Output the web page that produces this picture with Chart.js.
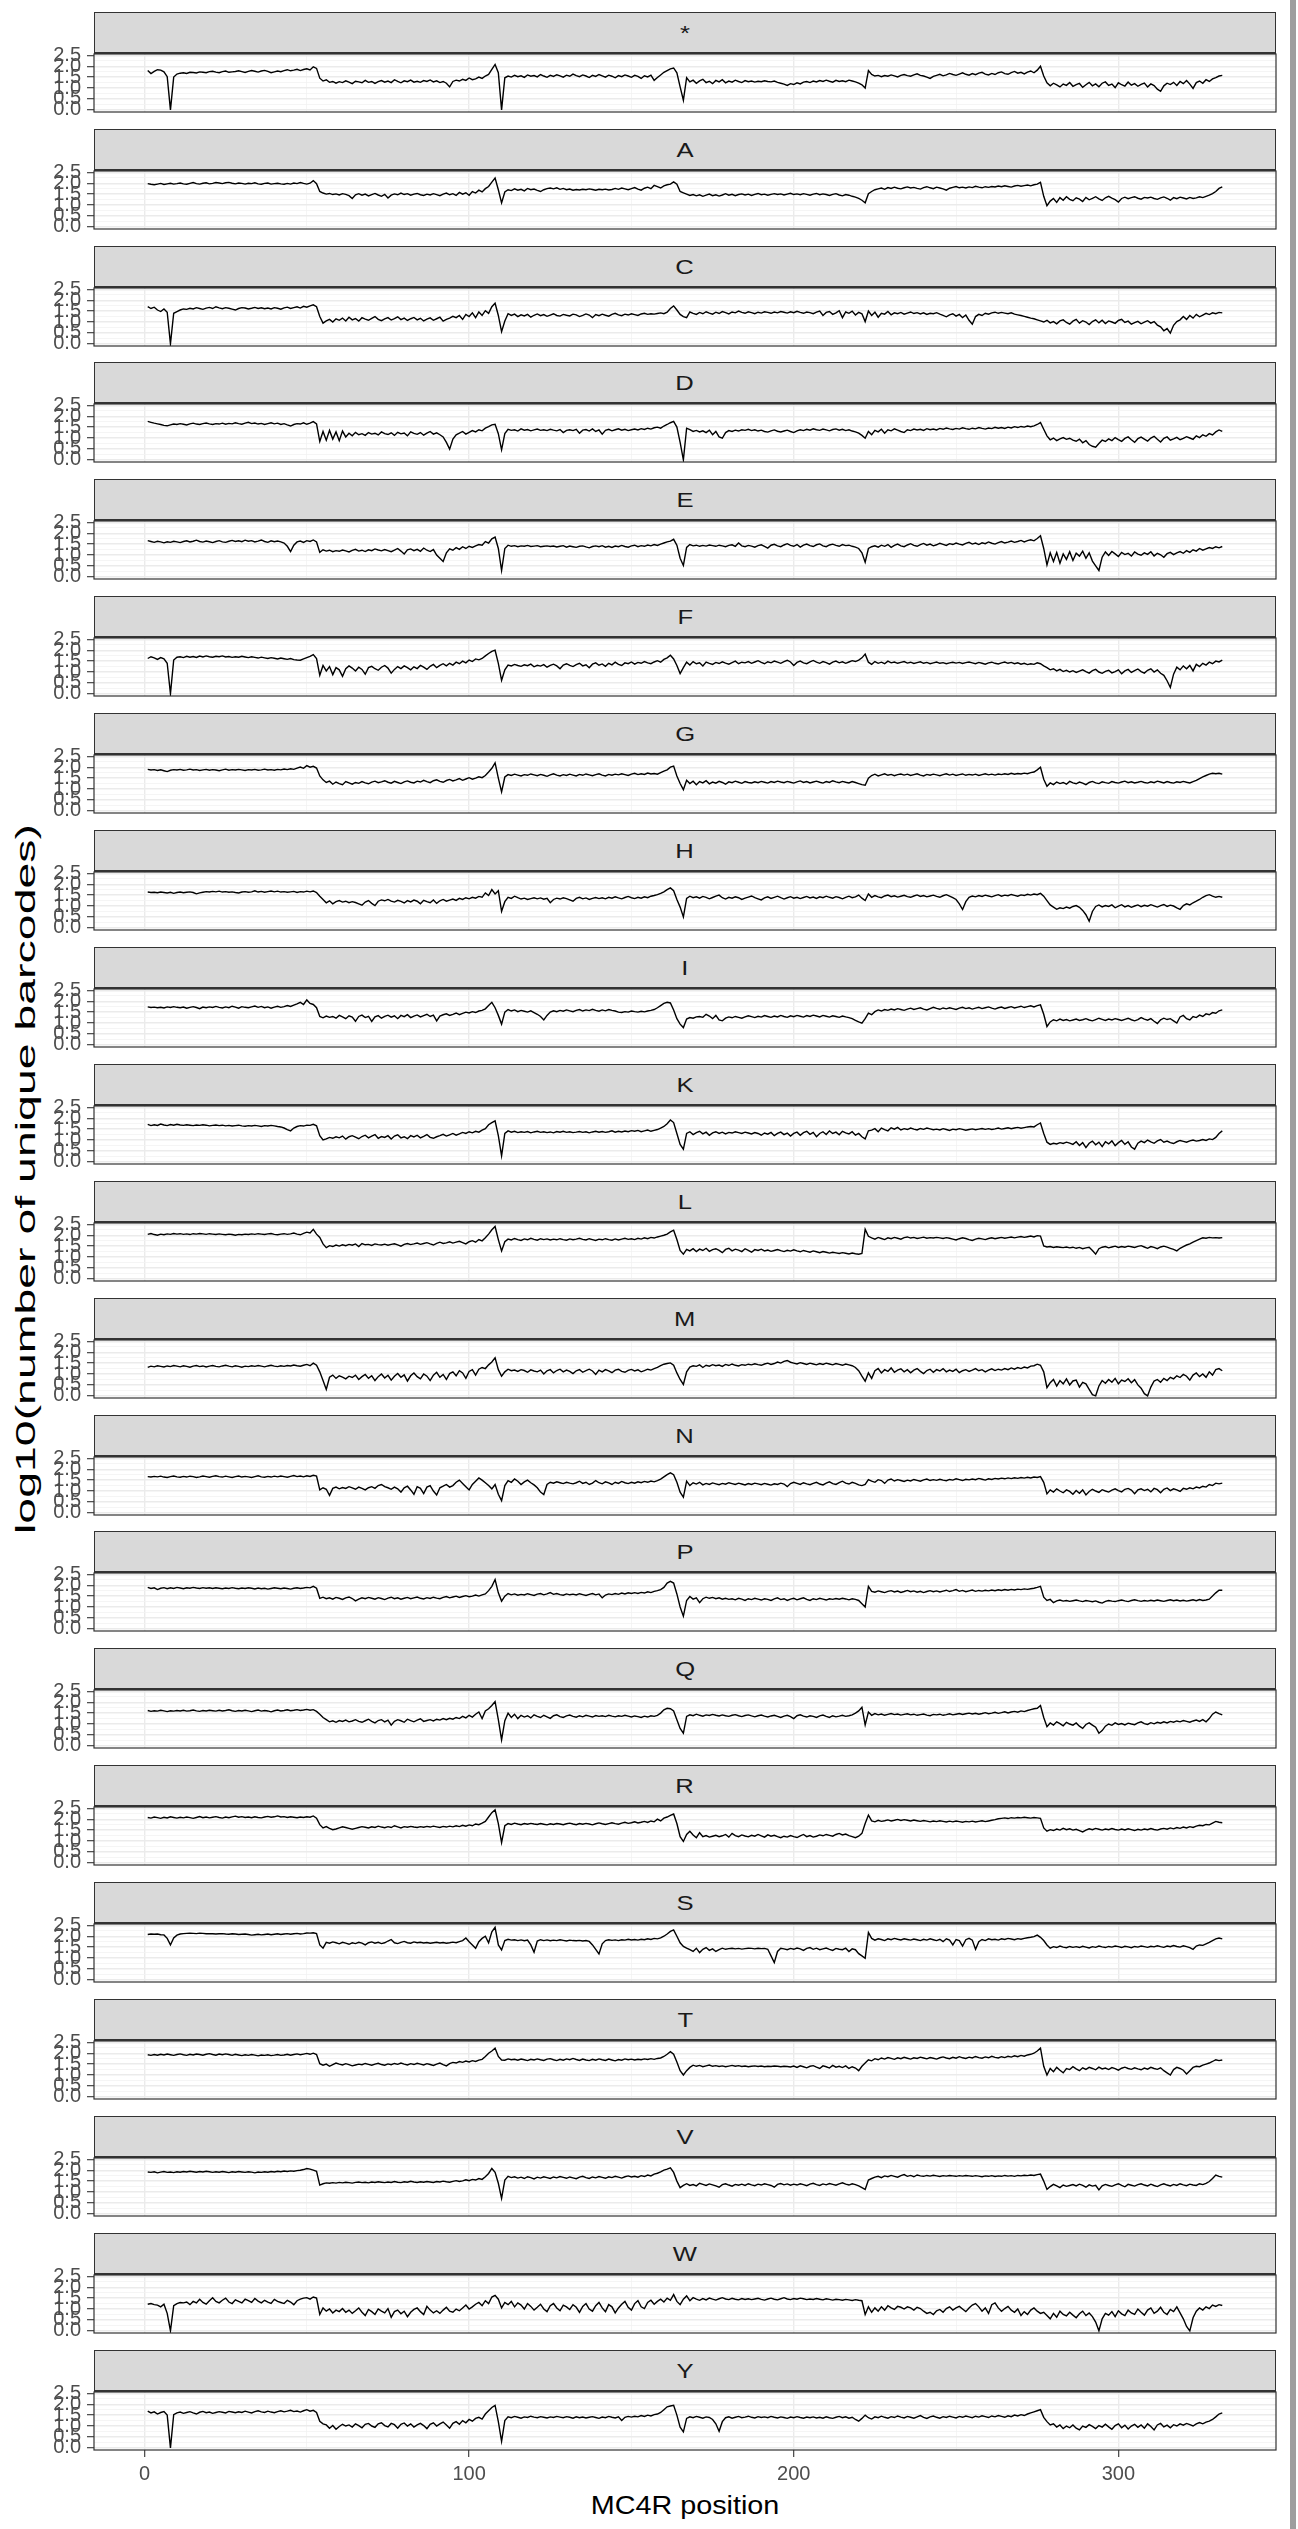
<!DOCTYPE html>
<html>
<head>
<meta charset="utf-8">
<script src="https://cdn.jsdelivr.net/npm/chart.js@4.4.1/dist/chart.umd.min.js"></script>
<style>
  html, body { margin: 0; padding: 0; background: #ffffff; }
  #page { position: relative; width: 1298px; height: 2529px; overflow: hidden; font-family: 'Liberation Sans', Arial, sans-serif; }
  .strip { position: absolute; box-sizing: border-box; background: #d9d9d9; border: 1px solid #333333; border-bottom: 2.5px solid #333333;
           display: flex; align-items: center; justify-content: center; color: #1a1a1a; font-size: 21px; }
  .strip span { display: inline-block; transform: scaleX(1.22); }
  canvas.panel { position: absolute; left: 0; }
  .ytitle { position: absolute; left: 26px; top: 1179px; white-space: nowrap; font-size: 27px; line-height: 1; color: #000;
            transform: translate(-50%, -50%) rotate(-90deg) scaleX(1.72); }
  .xtitle { position: absolute; left: 685px; top: 2505px; white-space: nowrap; font-size: 25px; line-height: 1; color: #000;
            transform: translate(-50%, -50%) scaleX(1.15); }
  .edge { position: absolute; left: 1290px; top: 0; width: 6px; height: 2529px; background: #9e9e9e; }
</style>
</head>
<body>
<div id="page">
  <div class="ytitle">log10(number of unique barcodes)</div>
  <div class="xtitle">MC4R position</div>
  <div class="edge"></div>
</div>
<script>
// facet labels (amino acid substituted), top to bottom
const facetLabels = ['*', 'A', 'C', 'D', 'E', 'F', 'G', 'H', 'I', 'K', 'L', 'M', 'N', 'P', 'Q', 'R', 'S', 'T', 'V', 'W', 'Y'];

// log10(number of unique barcodes) per MC4R position 1..332, one array per facet
const seriesStar = [
1.80,1.66,1.76,1.84,1.82,1.74,1.52,0.00,1.50,1.64, 1.68,1.70,1.67,1.72,1.71,1.69,1.74,1.72,1.70,1.75, 1.77,1.73,1.70,1.75,1.78,1.72,1.74,1.76,1.79,1.75, 1.71,1.76,1.80,1.77,1.73,1.78,1.81,1.76,1.70,1.74, 1.78,1.75,1.80,1.84,1.79,1.82,1.86,1.80,1.85,1.88, 1.83,1.97,1.90,
1.45,1.32,1.38,1.26,1.30,1.22,1.29,1.25,1.33,1.27, 1.20,1.31,1.28,1.24,1.35,1.26,1.30,1.21,1.29,1.34, 1.27,1.32,1.25,1.38,1.30,1.24,1.33,1.29,1.36,1.27, 1.31,1.26,1.34,1.30,1.37,1.28,1.33,1.25,1.30,1.22, 1.05,1.30,1.36,1.32,1.40,1.35,1.46,1.38,1.42,1.50, 1.44,1.55,1.62,
1.85,2.08,1.70,0.00,
1.47,1.55,1.50,1.58,1.52,1.56,1.49,1.60,1.54,1.57, 1.51,1.62,1.55,1.49,1.58,1.53,1.61,1.56,1.50,1.59, 1.54,1.64,1.57,1.52,1.60,1.55,1.48,1.58,1.53,1.62, 1.56,1.50,1.59,1.54,1.47,1.57,1.52,1.60,1.55,1.49, 1.58,1.53,1.44,1.56,1.51,1.59,1.35,1.48,1.60,1.72, 1.80,
1.88,1.92,1.70,1.05,0.44,
1.47,1.28,1.36,1.22,1.33,1.40,1.25,1.31,1.20,1.35, 1.28,1.38,1.24,1.32,1.27,1.36,1.30,1.25,1.34,1.29, 1.32,1.27,1.31,1.29,1.33,1.30,1.28,1.32,1.26,1.22, 1.18,1.12,1.20,1.16,1.24,1.19,1.27,1.30,1.25,1.32, 1.28,1.34,1.30,1.36,1.31,1.27,1.35,1.30,1.33,1.29, 1.36,1.32,1.28,1.22,1.15,
1.00,1.80,
1.62,1.55,1.58,1.52,1.57,1.54,1.60,1.56,1.51,1.58, 1.62,1.57,1.54,1.60,1.65,1.58,1.55,1.50,1.44,1.53, 1.58,1.63,1.56,1.60,1.67,1.62,1.58,1.64,1.70,1.63, 1.59,1.66,1.61,1.68,1.72,1.64,1.60,1.67,1.62,1.70, 1.74,1.66,1.63,1.71,1.76,1.68,1.72,1.65,1.73,1.78, 1.70,1.82,2.00,
1.55,1.24,1.10,1.22,1.14,1.05,1.18,1.12,1.25,1.08, 1.16,1.21,1.03,1.15,1.26,1.10,1.19,1.06,1.22,1.28, 1.12,1.18,1.02,1.24,1.15,1.09,1.27,1.13,1.20,1.08, 1.17,1.23,1.05,1.19,1.11,0.95,0.85,1.10,1.22,1.16, 1.26,1.12,1.30,1.20,1.34,1.18,0.98,1.25,1.32,1.22, 1.38,1.30,1.42,1.48,1.55,1.58
];
const seriesA = [
1.98,1.95,1.93,1.96,1.99,1.94,1.97,2.00,1.96,1.98, 2.01,1.97,1.95,1.99,2.03,1.98,1.96,2.00,2.02,1.97, 1.99,2.03,2.01,1.98,2.02,2.04,2.00,1.97,2.01,1.99, 1.96,2.00,1.98,2.02,1.97,1.95,1.99,2.01,1.96,1.98, 2.00,1.97,1.95,1.99,1.96,2.01,1.98,2.03,1.99,1.96, 2.00,2.12,1.98,
1.62,1.55,1.50,1.53,1.48,1.51,1.46,1.52,1.49,1.43, 1.30,1.47,1.52,1.45,1.50,1.42,1.48,1.53,1.46,1.40, 1.49,1.32,1.45,1.51,1.47,1.55,1.48,1.52,1.45,1.50, 1.53,1.47,1.44,1.50,1.46,1.52,1.48,1.43,1.50,1.55, 1.47,1.52,1.44,1.58,1.50,1.56,1.45,1.62,1.55,1.68, 1.60,1.75,1.85,
2.05,2.24,1.70,1.10,
1.60,1.70,1.66,1.74,1.68,1.72,1.65,1.76,1.70,1.73, 1.67,1.62,1.70,1.75,1.78,1.74,1.79,1.72,1.76,1.70, 1.73,1.68,1.71,1.69,1.72,1.70,1.74,1.71,1.68,1.72, 1.70,1.73,1.69,1.71,1.76,1.72,1.78,1.74,1.70,1.75, 1.80,1.73,1.68,1.77,1.82,1.75,1.90,1.84,1.78,1.88, 1.93,
1.96,2.06,1.95,1.62,1.56,
1.50,1.44,1.48,1.42,1.47,1.40,1.45,1.50,1.43,1.47, 1.41,1.46,1.52,1.45,1.49,1.43,1.48,1.51,1.46,1.50, 1.44,1.49,1.53,1.47,1.50,1.45,1.49,1.52,1.48,1.51, 1.46,1.50,1.54,1.48,1.51,1.47,1.52,1.49,1.45,1.50, 1.53,1.47,1.51,1.48,1.44,1.49,1.52,1.46,1.42,1.48, 1.45,1.40,1.36,1.30,1.22,
1.10,1.52,
1.62,1.70,1.74,1.78,1.72,1.80,1.76,1.82,1.77,1.74, 1.79,1.83,1.78,1.81,1.76,1.73,1.80,1.84,1.79,1.75, 1.82,1.78,1.74,1.68,1.77,1.81,1.85,1.79,1.82,1.78, 1.83,1.80,1.86,1.82,1.79,1.84,1.81,1.85,1.83,1.87, 1.84,1.88,1.85,1.82,1.87,1.90,1.86,1.89,1.92,1.88, 1.93,1.96,2.04,
1.40,0.97,1.18,1.30,1.12,1.34,1.22,1.38,1.26,1.20, 1.33,1.27,1.16,1.35,1.24,1.30,1.38,1.28,1.21,1.33, 1.40,1.32,1.25,1.14,1.30,1.36,1.29,1.34,1.38,1.31, 1.27,1.35,1.32,1.36,1.30,1.26,1.33,1.37,1.31,1.22, 1.34,1.29,1.36,1.32,1.28,1.35,1.30,1.33,1.38,1.34, 1.40,1.45,1.52,1.62,1.76,1.83
];
const seriesC = [
1.71,1.62,1.68,1.55,1.48,1.60,1.45,0.00,1.40,1.48, 1.55,1.60,1.58,1.63,1.60,1.66,1.62,1.58,1.64,1.67, 1.62,1.70,1.65,1.61,1.66,1.63,1.59,1.55,1.62,1.66, 1.64,1.60,1.63,1.67,1.62,1.65,1.61,1.64,1.60,1.66, 1.63,1.59,1.65,1.68,1.62,1.66,1.70,1.64,1.72,1.68, 1.74,1.79,1.70,
1.25,0.95,1.05,1.12,1.00,1.15,1.08,1.18,1.05,1.22, 1.10,1.16,1.04,1.20,1.13,1.08,1.17,1.25,1.12,1.06, 1.14,1.20,1.09,1.16,1.24,1.11,1.18,1.07,1.15,1.21, 1.10,1.17,1.05,1.13,1.19,1.08,1.15,1.22,1.04,1.12, 1.18,1.26,1.20,1.30,1.12,1.35,1.25,1.42,1.20,1.46, 1.30,1.52,1.40,
1.70,1.86,1.30,0.56,
1.05,1.38,1.30,1.36,1.25,1.33,1.28,1.35,1.22,1.31, 1.37,1.29,1.34,1.26,1.32,1.38,1.30,1.27,1.35,1.31, 1.28,1.36,1.33,1.25,1.30,1.37,1.32,1.20,1.34,1.29, 1.36,1.31,1.27,1.35,1.40,1.33,1.29,1.36,1.32,1.38, 1.34,1.30,1.37,1.40,1.35,1.38,1.36,1.39,1.42,1.38, 1.45,
1.62,1.74,1.55,1.35,1.25,
1.20,1.46,1.40,1.35,1.44,1.38,1.47,1.41,1.36,1.45, 1.39,1.48,1.43,1.37,1.46,1.42,1.50,1.44,1.40,1.47, 1.43,1.38,1.45,1.41,1.47,1.44,1.40,1.46,1.42,1.48, 1.45,1.41,1.47,1.43,1.49,1.44,1.40,1.46,1.43,1.38, 1.45,1.50,1.30,1.44,1.48,1.35,1.42,1.52,1.20,1.46, 1.40,1.50,1.32,1.44,1.38,
1.02,1.50,
1.30,1.45,1.22,1.40,1.36,1.48,1.33,1.42,1.38,1.44, 1.36,1.41,1.46,1.39,1.43,1.37,1.42,1.35,1.40,1.38, 1.43,1.36,1.30,1.24,1.33,1.38,1.27,1.35,1.20,1.32, 1.08,0.90,1.25,1.35,1.30,1.40,1.36,1.42,1.45,1.40, 1.44,1.41,1.38,1.42,1.36,1.33,1.30,1.26,1.22,1.18, 1.15,1.10,1.05,
1.00,1.08,0.96,1.02,0.92,1.05,1.10,0.98,0.90,1.04, 1.12,0.95,1.06,1.00,0.88,1.02,1.10,0.96,1.08,0.93, 1.05,1.00,0.94,1.07,1.12,0.98,1.04,0.90,0.97,1.03, 0.92,0.99,1.06,0.95,1.02,0.86,0.78,0.60,0.70,0.49, 0.85,1.02,1.10,1.25,1.12,1.30,1.18,1.35,1.24,1.32, 1.40,1.34,1.42,1.38,1.44,1.42
];
const seriesD = [
1.76,1.72,1.68,1.65,1.62,1.58,1.56,1.60,1.64,1.62, 1.66,1.63,1.60,1.65,1.68,1.64,1.62,1.66,1.69,1.65, 1.62,1.66,1.64,1.68,1.63,1.67,1.65,1.70,1.66,1.63, 1.68,1.72,1.66,1.69,1.64,1.67,1.62,1.66,1.70,1.65, 1.68,1.62,1.66,1.60,1.55,1.62,1.66,1.64,1.70,1.63, 1.68,1.75,1.65,
0.84,1.30,0.90,1.35,0.95,1.28,0.88,1.32,1.05,1.22, 1.10,1.26,1.15,1.20,1.12,1.25,1.18,1.22,1.14,1.28, 1.20,1.16,1.24,1.12,1.26,1.19,1.23,1.10,1.28,1.21, 1.17,1.25,1.13,1.22,1.30,1.18,1.24,1.15,1.05,0.80, 0.49,0.95,1.15,1.22,1.30,1.18,1.26,1.34,1.28,1.38, 1.33,1.45,1.52,
1.60,1.63,1.20,0.46,
1.20,1.40,1.35,1.38,1.32,1.42,1.36,1.39,1.33,1.37, 1.41,1.35,1.38,1.34,1.40,1.36,1.33,1.39,1.25,1.35, 1.38,1.34,1.40,1.22,1.36,1.39,1.32,1.42,1.30,1.37, 1.18,1.35,1.40,1.33,1.38,1.42,1.36,1.40,1.34,1.38, 1.41,1.37,1.43,1.39,1.45,1.41,1.47,1.50,1.45,1.55, 1.62,
1.70,1.76,1.50,0.80,0.00,
1.45,1.38,1.30,1.35,1.28,1.33,1.25,1.36,1.15,1.30, 1.05,0.99,1.25,1.34,1.30,1.36,1.32,1.38,1.35,1.40, 1.34,1.38,1.32,1.36,1.30,1.27,1.33,1.37,1.31,1.28, 1.32,1.36,1.30,1.25,1.33,1.38,1.34,1.40,1.36,1.42, 1.38,1.35,1.41,1.37,1.33,1.39,1.42,1.36,1.40,1.34, 1.38,1.32,1.28,1.22,1.12,
0.99,1.30,
1.15,1.35,1.28,1.40,1.22,1.38,1.33,1.42,1.36,1.30, 1.25,1.38,1.34,1.41,1.37,1.40,1.35,1.43,1.38,1.41, 1.37,1.44,1.40,1.46,1.42,1.39,1.44,1.41,1.47,1.43, 1.40,1.45,1.42,1.48,1.44,1.41,1.46,1.43,1.49,1.45, 1.48,1.44,1.50,1.46,1.52,1.48,1.53,1.50,1.55,1.52, 1.56,1.62,1.71,
1.40,1.10,0.92,1.00,0.88,0.96,1.02,0.94,0.99,0.90, 0.85,0.95,0.78,0.88,0.70,0.62,0.58,0.75,0.90,0.84, 0.96,0.88,1.02,0.93,0.85,0.98,1.05,0.92,0.80,0.97, 1.04,0.95,0.86,1.00,1.08,0.94,0.82,0.99,1.05,0.90, 0.96,1.03,0.92,0.98,1.06,1.00,0.94,1.10,1.02,1.15, 1.08,1.20,1.14,1.28,1.37,1.30
];
const seriesE = [
1.66,1.62,1.58,1.63,1.60,1.56,1.61,1.58,1.63,1.60, 1.57,1.62,1.65,1.60,1.63,1.68,1.62,1.59,1.64,1.61, 1.57,1.62,1.66,1.60,1.58,1.63,1.67,1.62,1.65,1.61, 1.68,1.63,1.66,1.60,1.64,1.69,1.62,1.58,1.65,1.61, 1.64,1.60,1.55,1.40,1.16,1.45,1.60,1.64,1.58,1.66, 1.62,1.69,1.60,
1.12,1.24,1.18,1.22,1.15,1.20,1.17,1.23,1.19,1.14, 1.21,1.26,1.18,1.22,1.16,1.24,1.20,1.28,1.23,1.19, 1.25,1.20,1.15,1.22,1.30,1.18,1.05,1.24,1.28,1.20, 1.26,1.17,1.32,1.22,1.16,1.25,1.00,0.85,0.70,1.10, 1.28,1.22,1.34,1.26,1.38,1.30,1.40,1.35,1.42,1.48, 1.45,1.62,1.55,
1.74,1.82,1.30,0.29,
1.30,1.45,1.40,1.43,1.38,1.42,1.40,1.44,1.39,1.41, 1.43,1.38,1.40,1.42,1.39,1.41,1.37,1.40,1.43,1.36, 1.41,1.38,1.35,1.40,1.42,1.37,1.33,1.39,1.42,1.38, 1.43,1.36,1.40,1.35,1.41,1.38,1.44,1.39,1.36,1.42, 1.45,1.38,1.43,1.40,1.46,1.42,1.48,1.44,1.50,1.55, 1.60,
1.64,1.72,1.45,0.85,0.52,
1.35,1.48,1.42,1.45,1.40,1.44,1.41,1.46,1.43,1.40, 1.45,1.42,1.38,1.44,1.47,1.40,1.55,1.42,1.38,1.44, 1.41,1.36,1.43,1.47,1.40,1.32,1.45,1.49,1.42,1.38, 1.46,1.52,1.44,1.40,1.48,1.36,1.45,1.50,1.43,1.39, 1.47,1.51,1.42,1.38,1.46,1.50,1.44,1.40,1.48,1.43, 1.45,1.40,1.36,1.30,1.10,
0.67,1.30,
1.38,1.42,1.36,1.45,1.40,1.48,1.35,1.44,1.50,1.42, 1.38,1.46,1.52,1.44,1.40,1.48,1.53,1.45,1.50,1.42, 1.47,1.54,1.49,1.44,1.52,1.48,1.55,1.50,1.46,1.53, 1.58,1.50,1.55,1.48,1.56,1.52,1.60,1.54,1.50,1.57, 1.62,1.55,1.59,1.64,1.58,1.62,1.67,1.60,1.66,1.70, 1.65,1.76,1.88,
1.30,0.55,1.10,0.70,1.12,0.62,1.05,0.80,1.15,0.75, 1.08,0.95,1.18,0.85,1.10,0.72,0.50,0.29,0.90,1.14, 0.98,1.16,1.05,0.93,1.12,1.02,1.08,0.95,1.14,1.04, 0.99,1.10,1.03,1.15,0.96,1.08,1.01,0.90,1.06,1.12, 1.02,1.10,1.16,1.08,1.20,1.12,1.24,1.18,1.30,1.22, 1.28,1.34,1.30,1.38,1.33,1.39
];
const seriesF = [
1.62,1.70,1.65,1.58,1.66,1.60,1.40,0.00,1.55,1.68, 1.70,1.66,1.72,1.68,1.71,1.67,1.73,1.69,1.74,1.70, 1.68,1.72,1.70,1.74,1.69,1.71,1.67,1.70,1.68,1.72, 1.69,1.66,1.70,1.67,1.64,1.68,1.65,1.62,1.66,1.63, 1.60,1.64,1.61,1.58,1.62,1.57,1.55,1.54,1.60,1.66, 1.72,1.80,1.62,
0.85,1.30,1.05,1.25,0.88,1.20,1.10,0.80,1.15,1.28, 1.18,1.05,1.22,1.12,0.90,1.20,1.26,1.15,1.08,1.22, 1.30,1.18,0.95,1.12,1.25,1.16,1.28,1.20,1.10,1.24, 1.16,1.30,1.22,1.12,1.26,1.35,1.20,1.30,1.38,1.28, 1.40,1.32,1.45,1.38,1.50,1.42,1.55,1.48,1.60,1.56, 1.62,1.74,1.85,
1.95,2.00,1.40,0.62,
1.10,1.32,1.28,1.35,1.30,1.26,1.33,1.29,1.36,1.24, 1.31,1.27,1.34,1.22,1.30,1.36,1.28,1.15,1.32,1.38, 1.30,1.25,1.34,1.40,1.28,1.33,1.20,1.36,1.42,1.31, 1.37,1.26,1.40,1.33,1.45,1.35,1.30,1.42,1.38,1.46, 1.36,1.44,1.40,1.48,1.42,1.38,1.46,1.52,1.45,1.58, 1.65,
1.77,1.60,1.30,0.93,1.20,
1.45,1.32,1.48,1.38,1.42,1.28,1.46,1.40,1.35,1.44, 1.39,1.47,1.41,1.36,1.43,1.50,1.38,1.45,1.42,1.48, 1.40,1.46,1.52,1.44,1.38,1.47,1.42,1.50,1.45,1.40, 1.48,1.54,1.46,1.30,1.44,1.50,1.42,1.38,1.46,1.53, 1.45,1.40,1.48,1.43,1.36,1.45,1.50,1.42,1.47,1.40, 1.46,1.52,1.48,1.55,1.65,
1.82,1.45,
1.35,1.48,1.40,1.45,1.38,1.50,1.42,1.46,1.40,1.44, 1.48,1.41,1.45,1.39,1.43,1.47,1.40,1.44,1.38,1.42, 1.46,1.40,1.43,1.38,1.42,1.45,1.41,1.44,1.39,1.43, 1.46,1.42,1.38,1.44,1.40,1.36,1.42,1.45,1.40,1.37, 1.42,1.46,1.40,1.44,1.38,1.42,1.36,1.40,1.34,1.38, 1.35,1.42,1.38,
1.28,1.20,1.10,1.15,1.05,1.12,1.02,1.08,1.00,1.06, 0.98,1.04,1.10,1.02,0.95,1.06,1.12,1.00,0.94,1.03, 1.08,0.96,1.02,1.10,0.92,1.05,1.12,0.98,1.06,1.14, 1.02,0.95,1.08,1.15,1.00,1.10,0.94,0.85,0.60,0.29, 0.90,1.22,1.10,1.28,1.15,1.30,1.05,1.35,1.25,1.40, 1.32,1.45,1.38,1.50,1.46,1.54
];
const seriesG = [
1.90,1.87,1.89,1.85,1.88,1.84,1.80,1.86,1.89,1.87, 1.90,1.86,1.88,1.91,1.87,1.89,1.85,1.88,1.90,1.86, 1.89,1.87,1.84,1.88,1.91,1.86,1.89,1.87,1.90,1.88, 1.85,1.89,1.87,1.90,1.86,1.88,1.91,1.87,1.89,1.86, 1.90,1.88,1.92,1.89,1.93,1.90,1.96,2.01,1.95,2.07, 2.00,2.04,1.96,
1.60,1.42,1.30,1.36,1.22,1.32,1.25,1.20,1.34,1.28, 1.22,1.30,1.26,1.34,1.28,1.24,1.32,1.36,1.29,1.33, 1.38,1.31,1.27,1.35,1.30,1.25,1.33,1.37,1.31,1.28, 1.36,1.32,1.40,1.34,1.29,1.38,1.42,1.35,1.31,1.39, 1.44,1.37,1.42,1.48,1.40,1.46,1.52,1.45,1.50,1.56, 1.52,1.62,1.78,
1.95,2.20,1.50,0.87,
1.55,1.66,1.62,1.68,1.64,1.60,1.66,1.63,1.69,1.65, 1.61,1.67,1.63,1.58,1.65,1.70,1.64,1.60,1.66,1.62, 1.68,1.64,1.60,1.67,1.63,1.69,1.65,1.61,1.66,1.70, 1.64,1.60,1.67,1.63,1.68,1.65,1.70,1.66,1.62,1.68, 1.72,1.66,1.70,1.67,1.73,1.69,1.71,1.68,1.75,1.82, 1.88,
2.00,2.05,1.60,1.25,0.97,
1.40,1.25,1.36,1.20,1.34,1.28,1.38,1.24,1.32,1.27, 1.35,1.30,1.22,1.33,1.29,1.36,1.31,1.26,1.34,1.30, 1.28,1.33,1.29,1.35,1.31,1.27,1.34,1.30,1.36,1.32, 1.29,1.35,1.31,1.27,1.33,1.37,1.30,1.34,1.28,1.32, 1.36,1.31,1.27,1.34,1.30,1.38,1.33,1.29,1.35,1.31, 1.28,1.34,1.30,1.25,1.20,
1.17,1.50,
1.62,1.68,1.60,1.65,1.70,1.63,1.67,1.61,1.66,1.69, 1.64,1.68,1.62,1.66,1.70,1.64,1.60,1.67,1.63,1.68, 1.65,1.61,1.66,1.70,1.64,1.68,1.62,1.66,1.69,1.63, 1.67,1.64,1.68,1.62,1.66,1.70,1.65,1.68,1.64,1.69, 1.66,1.70,1.67,1.72,1.68,1.71,1.69,1.73,1.70,1.75, 1.78,1.88,2.00,
1.45,1.13,1.28,1.20,1.32,1.25,1.30,1.22,1.35,1.28, 1.24,1.32,1.27,1.20,1.30,1.35,1.28,1.25,1.33,1.29, 1.26,1.34,1.30,1.27,1.32,1.36,1.29,1.33,1.28,1.31, 1.35,1.30,1.27,1.33,1.29,1.36,1.32,1.28,1.34,1.30, 1.27,1.33,1.30,1.35,1.31,1.28,1.34,1.40,1.48,1.56, 1.62,1.68,1.72,1.70,1.72,1.68
];
const seriesH = [
1.64,1.62,1.63,1.61,1.64,1.62,1.60,1.63,1.58,1.62, 1.64,1.61,1.63,1.65,1.62,1.56,1.60,1.63,1.66,1.64, 1.67,1.65,1.68,1.64,1.66,1.63,1.65,1.62,1.60,1.64, 1.66,1.63,1.65,1.70,1.64,1.67,1.63,1.66,1.69,1.65, 1.68,1.64,1.66,1.63,1.65,1.67,1.62,1.66,1.64,1.68, 1.65,1.69,1.62,
1.45,1.30,1.15,1.24,1.10,1.20,1.25,1.18,1.22,1.15, 1.20,1.16,1.10,1.04,1.18,1.25,1.12,1.02,1.22,1.28, 1.24,1.30,1.22,1.18,1.26,1.21,1.14,1.25,1.19,1.27, 1.22,1.10,1.26,1.20,1.15,1.28,1.12,1.24,1.30,1.22, 1.27,1.32,1.26,1.35,1.30,1.38,1.33,1.40,1.36,1.44, 1.40,1.60,1.48,
1.75,1.55,1.70,0.76,
1.20,1.40,1.35,1.45,1.38,1.32,1.36,1.30,1.34,1.38, 1.33,1.37,1.31,1.35,1.15,1.30,1.36,1.32,1.38,1.34, 1.28,1.22,1.35,1.40,1.33,1.37,1.30,1.35,1.39,1.34, 1.38,1.33,1.40,1.36,1.42,1.37,1.33,1.39,1.44,1.38, 1.34,1.40,1.36,1.42,1.38,1.45,1.48,1.52,1.58,1.65, 1.75,
1.83,1.70,1.30,0.95,0.50,
1.35,1.45,1.38,1.42,1.36,1.44,1.40,1.33,1.39,1.45, 1.50,1.38,1.32,1.40,1.36,1.42,1.38,1.30,1.36,1.41, 1.46,1.38,1.33,1.28,1.37,1.42,1.35,1.40,1.45,1.38, 1.32,1.38,1.43,1.36,1.40,1.34,1.39,1.44,1.37,1.41, 1.35,1.42,1.38,1.45,1.40,1.36,1.43,1.39,1.33,1.40, 1.45,1.38,1.42,1.50,1.36,
1.25,1.55,
1.40,1.48,1.42,1.38,1.46,1.50,1.43,1.47,1.41,1.45, 1.49,1.43,1.40,1.46,1.51,1.44,1.48,1.42,1.46,1.50, 1.44,1.40,1.47,1.52,1.45,1.38,1.30,1.10,0.84,1.20, 1.40,1.46,1.42,1.48,1.44,1.50,1.46,1.42,1.48,1.52, 1.45,1.50,1.47,1.53,1.49,1.45,1.51,1.48,1.54,1.50, 1.55,1.52,1.58,
1.45,1.25,1.05,0.95,0.85,0.92,0.88,0.95,0.90,0.98, 1.02,0.94,0.80,0.60,0.30,0.75,0.98,1.05,0.96,1.02, 0.98,1.05,0.92,1.00,1.06,0.96,1.02,0.94,1.00,1.05, 0.97,1.03,0.99,1.06,1.01,0.95,1.02,1.07,0.98,1.04, 1.00,0.92,0.85,1.02,1.10,1.05,1.15,1.22,1.30,1.40, 1.48,1.52,1.45,1.40,1.44,1.40
];
const seriesI = [
1.74,1.71,1.73,1.70,1.72,1.69,1.74,1.71,1.75,1.72, 1.70,1.73,1.68,1.72,1.75,1.71,1.66,1.73,1.70,1.74, 1.71,1.76,1.72,1.69,1.74,1.70,1.77,1.73,1.68,1.75, 1.72,1.70,1.74,1.78,1.72,1.76,1.70,1.74,1.68,1.73, 1.77,1.72,1.75,1.80,1.76,1.82,1.88,1.95,1.85,2.06, 1.90,1.85,1.70,
1.30,1.24,1.32,1.26,1.30,1.22,1.35,1.28,1.20,1.33, 1.27,1.08,1.30,1.36,1.25,1.31,1.07,1.28,1.34,1.22, 1.30,1.36,1.27,1.33,1.20,1.35,1.29,1.38,1.25,1.32, 1.37,1.28,1.34,1.40,1.30,1.36,1.10,1.32,1.38,1.42, 1.35,1.40,1.46,1.38,1.44,1.50,1.46,1.52,1.48,1.55, 1.58,1.65,1.80,
1.95,1.70,1.35,0.95,
1.50,1.62,1.55,1.60,1.52,1.58,1.54,1.50,1.56,1.48, 1.40,1.30,1.14,1.35,1.50,1.56,1.52,1.58,1.54,1.60, 1.56,1.52,1.58,1.62,1.55,1.60,1.57,1.63,1.58,1.54, 1.60,1.56,1.62,1.58,1.55,1.50,1.48,1.52,1.50,1.55, 1.52,1.50,1.54,1.51,1.55,1.58,1.62,1.70,1.80,1.90, 1.95,
1.92,1.60,1.20,0.95,0.79,
1.18,1.25,1.22,1.28,1.30,1.26,1.40,1.32,1.20,1.35, 1.14,1.10,1.22,1.28,1.24,1.30,1.26,1.22,1.28,1.33, 1.29,1.25,1.31,1.27,1.34,1.30,1.26,1.32,1.28,1.35, 1.30,1.26,1.33,1.29,1.35,1.31,1.27,1.34,1.30,1.36, 1.32,1.28,1.35,1.31,1.27,1.33,1.30,1.26,1.32,1.28, 1.25,1.20,1.12,1.05,0.99,
1.20,1.45,
1.38,1.52,1.60,1.55,1.62,1.58,1.64,1.60,1.66,1.62, 1.58,1.64,1.68,1.62,1.66,1.70,1.64,1.60,1.66,1.72, 1.67,1.63,1.69,1.65,1.70,1.66,1.62,1.68,1.72,1.66, 1.70,1.64,1.68,1.72,1.66,1.70,1.74,1.68,1.64,1.70, 1.73,1.67,1.71,1.75,1.69,1.73,1.77,1.71,1.75,1.79, 1.74,1.80,1.83,
1.40,0.84,1.05,1.15,1.10,1.18,1.12,1.16,1.10,1.14, 1.18,1.12,1.15,1.20,1.14,1.10,1.16,1.22,1.17,1.12, 1.18,1.14,1.20,1.16,1.12,1.17,1.22,1.15,1.10,1.16, 1.25,1.18,1.13,1.20,1.08,0.98,1.15,1.22,1.16,1.20, 1.10,1.00,1.28,1.35,1.20,1.14,1.30,1.25,1.36,1.30, 1.42,1.38,1.48,1.45,1.56,1.60
];
const seriesK = [
1.72,1.66,1.70,1.67,1.73,1.69,1.66,1.71,1.68,1.72, 1.69,1.67,1.70,1.68,1.66,1.69,1.67,1.70,1.68,1.65, 1.67,1.69,1.66,1.68,1.65,1.67,1.64,1.66,1.68,1.65, 1.63,1.66,1.64,1.67,1.65,1.62,1.66,1.64,1.67,1.65, 1.62,1.60,1.55,1.48,1.42,1.55,1.62,1.66,1.64,1.68, 1.67,1.72,1.65,
1.20,1.00,1.05,1.12,1.08,1.15,1.10,1.18,1.04,1.15, 1.20,1.13,1.06,1.16,1.22,1.10,1.18,1.25,1.08,1.16, 1.12,1.20,1.05,1.18,1.24,1.10,1.15,1.06,1.20,1.14, 1.22,1.10,1.17,1.25,1.12,1.08,1.15,1.20,1.26,1.18, 1.24,1.30,1.22,1.28,1.35,1.30,1.38,1.33,1.40,1.36, 1.45,1.52,1.70,
1.80,1.88,1.20,0.27,
1.30,1.42,1.36,1.40,1.34,1.38,1.35,1.39,1.33,1.37, 1.40,1.35,1.38,1.34,1.37,1.33,1.39,1.36,1.40,1.35, 1.38,1.34,1.36,1.39,1.35,1.38,1.33,1.37,1.40,1.36, 1.39,1.35,1.38,1.42,1.36,1.40,1.37,1.41,1.38,1.43, 1.40,1.44,1.38,1.42,1.46,1.40,1.44,1.48,1.55,1.62, 1.75,
1.92,1.80,1.30,0.80,0.58,
1.30,1.38,1.25,1.34,1.40,1.28,1.36,1.22,1.33,1.38, 1.30,1.36,1.28,1.35,1.32,1.38,1.34,1.30,1.36,1.32, 1.28,1.34,1.30,1.22,1.32,1.27,1.35,1.20,1.30,1.36, 1.25,1.32,1.18,1.30,1.36,1.22,1.34,1.40,1.26,1.35, 1.15,1.30,1.38,1.25,1.42,1.30,1.36,1.24,1.40,1.33, 1.28,1.38,1.22,1.30,1.15,
1.05,1.42,
1.45,1.52,1.38,1.55,1.48,1.42,1.56,1.50,1.58,1.46, 1.52,1.48,1.55,1.50,1.46,1.53,1.49,1.55,1.51,1.47, 1.50,1.46,1.52,1.48,1.44,1.50,1.47,1.52,1.49,1.45, 1.48,1.51,1.47,1.50,1.53,1.49,1.52,1.48,1.51,1.55, 1.50,1.53,1.56,1.52,1.55,1.58,1.54,1.57,1.60,1.62, 1.60,1.70,1.78,
1.30,0.90,0.80,0.85,0.82,0.88,0.84,0.90,0.86,0.80, 0.92,0.75,0.88,0.65,0.85,0.95,0.78,0.90,0.70,0.92, 0.82,0.96,0.74,0.88,0.98,0.80,0.92,0.68,0.58,0.85, 0.95,0.88,1.00,0.92,0.85,0.96,1.02,0.90,0.95,0.88, 0.84,0.92,0.98,0.94,0.90,0.96,1.00,0.95,0.98,1.02, 0.98,1.05,1.02,1.12,1.30,1.42
];
const seriesL = [
2.04,2.08,2.03,2.00,2.05,2.02,2.06,2.04,2.08,2.05, 2.07,2.04,2.06,2.03,2.07,2.05,2.08,2.06,2.04,2.07, 2.05,2.03,2.06,2.04,2.02,2.05,2.03,2.00,2.04,2.02, 2.05,2.03,2.06,2.04,2.07,2.05,2.03,2.06,2.08,2.04, 2.02,2.05,2.07,2.04,2.06,2.10,2.05,2.02,2.08,2.14, 2.10,2.27,2.05,
1.90,1.60,1.43,1.52,1.48,1.55,1.50,1.56,1.52,1.58, 1.54,1.60,1.48,1.62,1.56,1.58,1.53,1.60,1.57,1.55, 1.59,1.54,1.58,1.61,1.56,1.50,1.58,1.62,1.57,1.60, 1.64,1.58,1.62,1.66,1.60,1.55,1.63,1.68,1.62,1.65, 1.70,1.64,1.68,1.72,1.66,1.60,1.70,1.75,1.68,1.80, 1.74,1.88,2.05,
2.25,2.40,1.80,1.28,
1.70,1.82,1.78,1.85,1.80,1.76,1.83,1.79,1.86,1.81, 1.77,1.84,1.80,1.83,1.78,1.82,1.79,1.84,1.80,1.77, 1.83,1.79,1.82,1.86,1.81,1.78,1.84,1.80,1.76,1.82, 1.79,1.84,1.80,1.77,1.83,1.78,1.82,1.86,1.81,1.84, 1.80,1.86,1.82,1.88,1.84,1.90,1.87,1.92,1.96,2.00, 2.05,
2.15,2.23,1.80,1.30,1.13,
1.35,1.28,1.38,1.25,1.36,1.30,1.40,1.26,1.34,1.38, 1.30,1.20,1.35,1.40,1.28,1.36,1.32,1.25,1.38,1.30, 1.22,1.34,1.30,1.36,1.28,1.32,1.26,1.30,1.34,1.29, 1.25,1.31,1.27,1.33,1.28,1.24,1.30,1.26,1.22,1.28, 1.24,1.20,1.25,1.22,1.18,1.22,1.19,1.16,1.20,1.17, 1.14,1.18,1.15,1.13,1.16,
2.27,1.95,
1.88,1.82,1.90,1.85,1.80,1.88,1.84,1.90,1.86,1.82, 1.89,1.92,1.87,1.90,1.85,1.88,1.91,1.86,1.89,1.87, 1.90,1.88,1.85,1.89,1.86,1.82,1.78,1.84,1.88,1.85, 1.80,1.76,1.82,1.86,1.83,1.80,1.85,1.88,1.84,1.87, 1.90,1.86,1.89,1.92,1.88,1.91,1.94,1.90,1.93,1.96, 1.92,1.98,1.96,
1.51,1.46,1.48,1.44,1.47,1.45,1.43,1.46,1.42,1.45, 1.40,1.44,1.38,1.42,1.45,1.30,1.13,1.38,1.45,1.48, 1.42,1.46,1.50,1.44,1.48,1.45,1.50,1.47,1.44,1.49, 1.52,1.46,1.40,1.48,1.44,1.38,1.46,1.50,1.45,1.40, 1.35,1.28,1.40,1.48,1.55,1.60,1.68,1.75,1.82,1.88, 1.86,1.90,1.88,1.89,1.87,1.89
];
const seriesM = [
1.30,1.36,1.33,1.38,1.35,1.32,1.37,1.34,1.39,1.36, 1.33,1.38,1.35,1.31,1.36,1.39,1.34,1.37,1.32,1.36, 1.39,1.35,1.33,1.37,1.40,1.36,1.33,1.38,1.35,1.31, 1.36,1.34,1.38,1.35,1.39,1.36,1.33,1.37,1.40,1.36, 1.34,1.38,1.35,1.39,1.37,1.41,1.38,1.36,1.40,1.44, 1.38,1.50,1.40,
1.10,0.70,0.29,0.85,0.95,0.80,0.92,0.86,0.78,0.90, 0.84,0.95,0.75,0.88,0.98,0.80,0.92,0.70,0.88,1.00, 0.82,0.94,0.72,0.90,1.02,0.85,0.96,0.68,0.92,1.05, 0.88,0.78,1.00,0.90,0.70,0.95,1.08,0.85,0.98,0.75, 1.02,1.10,0.92,1.15,1.05,0.80,1.12,1.20,0.95,1.22, 1.30,1.25,1.42,
1.55,1.74,1.20,0.90,
1.10,1.22,1.15,1.18,1.12,1.20,1.16,1.08,1.19,1.14, 1.10,1.18,1.00,1.15,1.20,1.05,1.16,1.22,1.10,1.18, 1.12,1.02,1.15,1.20,1.08,1.16,1.22,1.14,0.98,1.18, 1.10,1.20,1.14,1.06,1.18,1.22,1.12,1.08,1.17,1.21, 1.14,1.19,1.10,1.16,1.22,1.18,1.25,1.30,1.38,1.45, 1.48,
1.51,1.40,1.05,0.75,0.52,
1.10,1.32,1.38,1.35,1.42,1.30,1.40,1.36,1.43,1.38, 1.41,1.35,1.44,1.39,1.46,1.40,1.37,1.43,1.40,1.45, 1.42,1.47,1.43,1.40,1.46,1.50,1.44,1.48,1.55,1.50, 1.58,1.62,1.54,1.50,1.46,1.52,1.48,1.44,1.50,1.46, 1.42,1.48,1.44,1.50,1.46,1.42,1.48,1.44,1.40,1.46, 1.42,1.38,1.30,1.15,0.90,
0.67,1.05,
0.80,1.15,1.25,1.05,1.20,1.12,1.28,1.08,1.18,1.24, 1.10,1.20,1.06,1.18,1.25,1.12,1.02,1.16,1.22,1.08, 1.20,1.14,1.25,1.10,1.18,1.12,1.22,1.06,1.15,1.20, 1.12,1.18,1.25,1.15,1.20,1.10,1.18,1.24,1.16,1.22, 1.18,1.25,1.20,1.28,1.22,1.30,1.25,1.32,1.28,1.36, 1.38,1.45,1.40,
1.10,0.37,0.60,0.75,0.45,0.70,0.55,0.78,0.50,0.68, 0.72,0.40,0.62,0.55,0.30,0.05,0.00,0.45,0.70,0.58, 0.75,0.62,0.80,0.55,0.72,0.66,0.78,0.60,0.74,0.50, 0.35,0.10,0.00,0.40,0.68,0.75,0.62,0.80,0.70,0.85, 0.78,0.92,0.84,0.98,0.90,0.72,0.95,1.05,0.88,1.00, 0.85,1.10,0.95,1.20,1.25,1.15
];
const seriesN = [
1.66,1.64,1.67,1.65,1.68,1.64,1.62,1.66,1.69,1.65, 1.63,1.67,1.64,1.68,1.66,1.62,1.65,1.69,1.66,1.63, 1.67,1.70,1.66,1.64,1.68,1.65,1.62,1.66,1.69,1.64, 1.67,1.65,1.62,1.66,1.70,1.65,1.63,1.67,1.64,1.68, 1.65,1.69,1.66,1.63,1.67,1.71,1.66,1.69,1.65,1.70, 1.67,1.72,1.68,
1.05,1.15,1.08,0.80,1.12,1.18,1.10,1.16,1.12,1.20, 1.14,1.08,1.18,1.12,1.05,1.15,1.20,1.12,1.25,1.30, 1.20,1.15,1.08,1.18,1.10,0.95,1.15,1.22,1.05,0.85, 1.20,1.12,0.88,1.18,1.25,1.00,0.82,1.15,1.22,1.30, 1.18,1.25,1.40,1.50,1.35,1.20,1.05,1.30,1.45,1.60, 1.50,1.38,1.25,
1.10,1.30,0.85,0.56,
1.25,1.48,1.40,1.55,1.45,1.30,1.42,1.50,1.38,1.28, 1.15,0.95,0.84,1.30,1.40,1.36,1.42,1.38,1.34,1.40, 1.36,1.33,1.38,1.45,1.35,1.40,1.30,1.36,1.48,1.38, 1.33,1.42,1.37,1.30,1.40,1.35,1.44,1.38,1.34,1.40, 1.36,1.42,1.38,1.44,1.40,1.46,1.42,1.48,1.55,1.65, 1.75,
1.83,1.75,1.40,0.95,0.72,
1.45,1.25,1.38,1.32,1.40,1.28,1.35,1.30,1.37,1.33, 1.29,1.35,1.31,1.38,1.34,1.30,1.36,1.32,1.28,1.34, 1.30,1.36,1.33,1.29,1.35,1.31,1.27,1.33,1.30,1.36, 1.32,1.20,1.34,1.40,1.35,1.30,1.38,1.33,1.29,1.35, 1.40,1.32,1.28,1.36,1.42,1.34,1.30,1.38,1.45,1.36, 1.32,1.40,1.35,1.28,1.25,
1.30,1.52,
1.45,1.40,1.52,1.48,1.35,1.50,1.55,1.46,1.52,1.48, 1.44,1.50,1.46,1.53,1.49,1.45,1.51,1.55,1.48,1.52, 1.49,1.54,1.50,1.47,1.53,1.50,1.56,1.52,1.48,1.54, 1.51,1.55,1.52,1.58,1.54,1.50,1.56,1.53,1.58,1.55, 1.59,1.56,1.60,1.57,1.61,1.58,1.62,1.59,1.63,1.60, 1.64,1.62,1.66,
1.40,0.87,1.05,0.95,1.10,1.00,0.92,1.05,0.98,0.85, 1.02,0.90,1.05,0.82,0.98,1.08,1.00,0.94,1.06,1.00, 0.95,1.04,1.10,1.02,0.96,1.08,1.12,1.04,0.88,1.05, 1.10,1.02,1.08,0.96,1.12,1.06,0.92,1.08,1.14,1.02, 1.10,1.05,0.98,1.12,1.08,1.15,1.10,1.18,1.14,1.22, 1.18,1.30,1.25,1.36,1.33,1.36
];
const seriesP = [
1.90,1.85,1.88,1.80,1.86,1.89,1.84,1.88,1.85,1.90, 1.87,1.84,1.88,1.86,1.90,1.87,1.85,1.89,1.86,1.88, 1.85,1.88,1.86,1.84,1.87,1.85,1.89,1.86,1.84,1.87, 1.85,1.88,1.86,1.83,1.87,1.84,1.86,1.82,1.85,1.88, 1.86,1.84,1.87,1.85,1.82,1.86,1.88,1.85,1.87,1.90, 1.88,1.95,1.86,
1.40,1.45,1.38,1.42,1.36,1.44,1.40,1.35,1.42,1.46, 1.39,1.28,1.36,1.42,1.38,1.44,1.40,1.36,1.43,1.39, 1.34,1.41,1.45,1.38,1.42,1.36,1.40,1.44,1.38,1.42, 1.46,1.40,1.37,1.43,1.39,1.45,1.41,1.38,1.44,1.48, 1.42,1.46,1.50,1.44,1.48,1.52,1.47,1.50,1.55,1.50, 1.56,1.60,1.75,
1.95,2.26,1.65,1.27,
1.50,1.62,1.56,1.60,1.54,1.58,1.55,1.61,1.57,1.53, 1.59,1.62,1.56,1.60,1.66,1.58,1.62,1.57,1.54,1.60, 1.56,1.59,1.55,1.61,1.57,1.53,1.58,1.62,1.56,1.60, 1.42,1.55,1.60,1.57,1.62,1.58,1.64,1.60,1.65,1.62, 1.66,1.62,1.67,1.64,1.70,1.66,1.72,1.75,1.80,1.90, 2.10,
2.18,2.10,1.60,1.00,0.58,
1.30,1.48,1.36,1.42,1.20,1.38,1.45,1.40,1.44,1.38, 1.42,1.36,1.40,1.35,1.38,1.33,1.40,1.36,1.30,1.38, 1.34,1.40,1.36,1.32,1.38,1.35,1.30,1.37,1.42,1.34, 1.38,1.30,1.36,1.40,1.33,1.38,1.42,1.35,1.30,1.38, 1.34,1.40,1.36,1.32,1.38,1.35,1.39,1.36,1.40,1.37, 1.33,1.38,1.35,1.30,1.15,
1.00,1.95,
1.72,1.68,1.74,1.70,1.66,1.72,1.75,1.69,1.73,1.67, 1.71,1.76,1.70,1.74,1.68,1.72,1.66,1.71,1.75,1.70, 1.74,1.69,1.73,1.77,1.71,1.75,1.80,1.72,1.76,1.70, 1.74,1.78,1.72,1.76,1.73,1.77,1.74,1.78,1.75,1.79, 1.76,1.80,1.77,1.81,1.78,1.82,1.80,1.83,1.81,1.84, 1.86,1.90,1.95,
1.45,1.30,1.35,1.20,1.28,1.32,1.27,1.30,1.26,1.29, 1.32,1.28,1.25,1.30,1.27,1.24,1.28,1.22,1.18,1.26, 1.30,1.27,1.25,1.29,1.32,1.28,1.25,1.30,1.33,1.29, 1.26,1.30,1.27,1.31,1.28,1.32,1.29,1.26,1.30,1.33, 1.29,1.32,1.28,1.31,1.27,1.30,1.33,1.29,1.34,1.30, 1.32,1.36,1.50,1.65,1.77,1.77
];
const seriesQ = [
1.62,1.58,1.61,1.59,1.63,1.60,1.57,1.61,1.59,1.62, 1.60,1.63,1.59,1.61,1.64,1.60,1.58,1.62,1.60,1.63, 1.61,1.59,1.63,1.60,1.62,1.65,1.61,1.58,1.62,1.60, 1.63,1.60,1.57,1.61,1.64,1.59,1.62,1.60,1.56,1.61, 1.64,1.60,1.62,1.65,1.61,1.63,1.66,1.62,1.64,1.67, 1.63,1.66,1.58,
1.45,1.30,1.20,1.10,1.15,1.08,1.16,1.12,1.18,1.10, 1.14,1.20,1.12,1.08,1.15,1.22,1.12,1.05,1.16,1.20, 1.10,1.18,0.95,1.12,1.20,1.15,1.08,1.22,1.16,1.10, 1.18,1.24,1.12,1.16,1.20,1.14,1.22,1.18,1.25,1.20, 1.26,1.22,1.30,1.25,1.35,1.28,1.40,1.32,1.45,1.55, 1.25,1.60,1.70,
1.85,2.03,1.20,0.27,
1.15,1.50,1.30,1.45,1.25,1.40,1.32,1.38,1.28,1.42, 1.35,1.30,1.40,1.33,1.26,1.38,1.42,1.34,1.30,1.37, 1.41,1.35,1.31,1.38,1.33,1.40,1.36,1.32,1.39,1.35, 1.38,1.34,1.40,1.36,1.33,1.38,1.35,1.40,1.36,1.32, 1.37,1.34,1.30,1.36,1.32,1.38,1.35,1.40,1.50,1.65, 1.72,
1.70,1.60,1.20,0.80,0.58,
1.35,1.42,1.38,1.45,1.40,1.36,1.42,1.39,1.44,1.40, 1.37,1.42,1.38,1.35,1.40,1.43,1.38,1.34,1.39,1.42, 1.37,1.33,1.38,1.41,1.36,1.32,1.37,1.40,1.35,1.30, 1.36,1.40,1.34,1.25,1.38,1.42,1.36,1.32,1.38,1.35, 1.30,1.37,1.41,1.35,1.30,1.38,1.33,1.36,1.40,1.35, 1.38,1.42,1.50,1.60,1.77,
0.96,1.55,
1.40,1.48,1.42,1.46,1.40,1.44,1.48,1.43,1.46,1.41, 1.44,1.47,1.42,1.45,1.40,1.43,1.46,1.41,1.38,1.44, 1.42,1.45,1.40,1.43,1.47,1.42,1.45,1.48,1.44,1.47, 1.50,1.46,1.49,1.45,1.48,1.52,1.47,1.50,1.54,1.49, 1.52,1.56,1.51,1.55,1.58,1.54,1.60,1.57,1.62,1.66, 1.70,1.72,1.85,
1.30,0.88,1.05,0.95,1.10,1.02,0.92,1.08,1.00,0.95, 1.05,0.90,0.80,0.98,1.05,0.95,0.85,0.58,0.70,0.90, 1.00,0.94,1.05,0.98,1.02,0.96,1.04,1.00,0.97,1.05, 1.10,1.02,0.98,1.06,1.01,1.08,1.04,1.10,1.05,1.12, 1.08,1.14,1.10,1.16,1.12,1.08,1.14,1.18,1.12,1.20, 1.10,1.25,1.45,1.55,1.48,1.42
];
const seriesR = [
2.08,2.05,2.10,2.07,2.04,2.09,2.06,2.11,2.08,2.05, 2.09,2.06,2.10,2.07,2.04,2.08,2.12,2.07,2.10,2.06, 2.09,2.12,2.08,2.05,2.10,2.07,2.11,2.14,2.09,2.12, 2.08,2.10,2.07,2.11,2.08,2.06,2.10,2.13,2.09,2.11, 2.15,2.10,2.12,2.08,2.11,2.09,2.07,2.10,2.08,2.11, 2.09,2.15,2.05,
1.75,1.60,1.66,1.58,1.52,1.55,1.60,1.65,1.62,1.58, 1.54,1.58,1.62,1.66,1.63,1.60,1.65,1.62,1.68,1.64, 1.61,1.66,1.62,1.70,1.65,1.60,1.66,1.63,1.67,1.64, 1.62,1.66,1.63,1.67,1.64,1.68,1.65,1.62,1.67,1.64, 1.68,1.65,1.70,1.66,1.72,1.68,1.74,1.70,1.78,1.75, 1.82,1.90,2.10,
2.30,2.43,1.80,0.93,
1.70,1.80,1.76,1.82,1.78,1.75,1.80,1.77,1.81,1.78, 1.76,1.80,1.77,1.74,1.79,1.76,1.80,1.78,1.75,1.79, 1.82,1.78,1.75,1.80,1.77,1.81,1.78,1.74,1.79,1.83, 1.79,1.76,1.80,1.84,1.80,1.77,1.82,1.86,1.81,1.84, 1.88,1.83,1.86,1.90,1.85,1.92,1.88,2.00,1.92,2.05, 2.10,
2.18,2.24,1.80,1.20,0.98,
1.30,1.45,1.28,1.15,1.38,1.20,1.25,1.18,1.22,1.26, 1.20,1.24,1.30,1.18,1.35,1.25,1.20,1.28,1.23,1.19, 1.26,1.22,1.30,1.24,1.18,1.28,1.22,1.26,1.20,1.15, 1.22,1.18,1.25,1.20,1.16,1.24,1.30,1.20,1.25,1.18, 1.22,1.28,1.24,1.30,1.26,1.22,1.30,1.35,1.28,1.32, 1.25,1.20,1.15,1.22,1.35,
1.80,2.19,
1.92,1.88,1.95,1.90,1.93,1.97,1.92,1.95,1.99,1.94, 1.98,1.95,1.92,1.96,1.93,1.90,1.94,1.91,1.88,1.92, 1.89,1.93,1.90,1.87,1.91,1.88,1.92,1.89,1.86,1.90, 1.88,1.91,1.87,1.90,1.93,1.89,1.92,1.95,1.98,2.02, 2.04,2.06,2.03,2.07,2.05,2.08,2.06,2.09,2.07,2.05, 2.08,2.06,2.04,
1.60,1.45,1.52,1.48,1.55,1.50,1.58,1.52,1.56,1.50, 1.54,1.48,1.42,1.50,1.56,1.52,1.58,1.54,1.50,1.55, 1.52,1.57,1.53,1.50,1.55,1.51,1.56,1.52,1.48,1.54, 1.50,1.55,1.52,1.57,1.53,1.50,1.55,1.58,1.54,1.60, 1.56,1.62,1.58,1.64,1.60,1.66,1.62,1.68,1.72,1.70, 1.76,1.74,1.82,1.90,1.86,1.84
];
const seriesS = [
2.08,2.10,2.09,2.10,2.07,2.06,1.90,1.60,1.92,2.05, 2.10,2.12,2.13,2.14,2.13,2.12,2.14,2.13,2.11,2.12, 2.11,2.10,2.11,2.12,2.10,2.09,2.11,2.10,2.08,2.09, 2.10,2.08,2.05,2.07,2.09,2.06,2.08,2.10,2.07,2.09, 2.11,2.08,2.10,2.12,2.09,2.11,2.13,2.10,2.12,2.15, 2.14,2.16,2.12,
1.60,1.45,1.72,1.68,1.74,1.70,1.65,1.72,1.68,1.63, 1.70,1.66,1.72,1.68,1.60,1.70,1.74,1.68,1.72,1.66, 1.70,1.78,1.85,1.70,1.66,1.72,1.76,1.70,1.68,1.74, 1.70,1.72,1.69,1.71,1.68,1.70,1.72,1.69,1.71,1.68, 1.70,1.73,1.70,1.75,1.80,1.92,1.75,1.60,1.45,1.75, 1.90,2.00,1.70,
2.20,2.41,1.60,1.37,
1.80,1.86,1.82,1.84,1.80,1.83,1.79,1.82,1.60,1.27, 1.78,1.84,1.80,1.83,1.79,1.82,1.80,1.84,1.81,1.78, 1.82,1.80,1.79,1.81,1.78,1.80,1.76,1.60,1.40,1.19, 1.65,1.80,1.84,1.81,1.83,1.80,1.84,1.82,1.86,1.83, 1.85,1.82,1.86,1.84,1.88,1.85,1.90,1.88,1.92,2.00, 2.10,
2.22,2.29,2.00,1.70,1.53,
1.45,1.38,1.30,1.45,1.25,1.40,1.48,1.35,1.42,1.30, 1.38,1.45,1.40,1.43,1.45,1.42,1.44,1.41,1.43,1.45, 1.44,1.42,1.45,1.43,1.44,1.40,1.10,0.79,1.30,1.45, 1.42,1.38,1.44,1.40,1.46,1.42,1.35,1.44,1.48,1.40, 1.45,1.38,1.42,1.46,1.40,1.35,1.44,1.40,1.38,1.45, 1.30,1.42,1.38,1.20,1.10,
0.99,2.17,
1.90,1.82,1.88,1.85,1.80,1.88,1.84,1.90,1.86,1.83, 1.88,1.85,1.82,1.87,1.84,1.80,1.86,1.82,1.88,1.84, 1.80,1.86,1.75,1.88,1.82,1.60,1.85,1.80,1.55,1.84, 1.90,1.82,1.40,1.75,1.85,1.80,1.88,1.84,1.86,1.82, 1.88,1.85,1.90,1.87,1.84,1.89,1.86,1.90,1.93,1.95, 1.98,2.05,1.95,
1.80,1.60,1.45,1.52,1.48,1.55,1.50,1.47,1.53,1.49, 1.52,1.48,1.54,1.50,1.46,1.52,1.49,1.55,1.51,1.48, 1.53,1.50,1.55,1.52,1.48,1.54,1.51,1.47,1.53,1.50, 1.55,1.52,1.49,1.54,1.51,1.56,1.52,1.49,1.55,1.52, 1.57,1.53,1.50,1.56,1.52,1.48,1.40,1.55,1.60,1.58, 1.65,1.72,1.80,1.88,1.92,1.88
];
const seriesT = [
1.93,1.90,1.94,1.91,1.95,1.92,1.96,1.93,1.90,1.94, 1.97,1.93,1.90,1.95,1.92,1.96,1.94,1.91,1.95,1.98, 1.94,1.91,1.96,1.93,1.97,1.94,1.90,1.95,1.92,1.89, 1.93,1.90,1.94,1.91,1.88,1.92,1.90,1.93,1.89,1.91, 1.94,1.90,1.92,1.95,1.91,1.94,1.97,1.93,1.96,1.99, 1.95,2.00,1.94,
1.52,1.45,1.50,1.40,1.48,1.55,1.50,1.46,1.52,1.48, 1.42,1.46,1.50,1.47,1.53,1.49,1.45,1.50,1.54,1.48, 1.45,1.51,1.47,1.53,1.49,1.55,1.50,1.46,1.52,1.48, 1.54,1.50,1.46,1.52,1.48,1.44,1.50,1.55,1.48,1.42, 1.52,1.58,1.55,1.62,1.58,1.64,1.60,1.66,1.62,1.68, 1.72,1.85,2.00,
2.10,2.23,1.85,1.69,
1.68,1.74,1.70,1.72,1.68,1.73,1.70,1.66,1.72,1.69, 1.74,1.70,1.67,1.73,1.75,1.70,1.66,1.72,1.68,1.74, 1.70,1.76,1.71,1.67,1.73,1.69,1.66,1.72,1.68,1.74, 1.70,1.67,1.73,1.69,1.65,1.71,1.68,1.74,1.70,1.73, 1.69,1.72,1.70,1.74,1.71,1.75,1.72,1.76,1.78,1.85, 1.95,
2.07,1.95,1.60,1.20,1.00,
1.20,1.35,1.45,1.40,1.44,1.38,1.42,1.46,1.40,1.43, 1.39,1.42,1.38,1.41,1.44,1.40,1.43,1.39,1.41,1.38, 1.40,1.42,1.39,1.41,1.38,1.40,1.39,1.41,1.40,1.38, 1.40,1.39,1.37,1.41,1.35,1.42,1.38,1.33,1.40,1.43, 1.36,1.30,1.42,1.38,1.32,1.44,1.36,1.40,1.34,1.42, 1.30,1.38,1.32,1.20,1.40,
1.55,1.70,
1.65,1.75,1.70,1.78,1.73,1.80,1.76,1.72,1.79,1.75, 1.81,1.77,1.73,1.79,1.76,1.82,1.78,1.74,1.80,1.77, 1.73,1.79,1.83,1.78,1.75,1.81,1.77,1.84,1.79,1.76, 1.82,1.78,1.85,1.80,1.77,1.83,1.79,1.86,1.81,1.78, 1.84,1.80,1.86,1.82,1.88,1.84,1.90,1.86,1.92,1.95, 2.00,2.10,2.23,
1.40,1.00,1.30,1.15,1.35,1.22,1.10,1.30,1.25,1.38, 1.28,1.20,1.33,1.26,1.35,1.30,1.24,1.36,1.28,1.32, 1.25,1.34,1.29,1.22,1.31,1.36,1.30,1.26,1.33,1.28, 1.24,1.32,1.27,1.35,1.30,1.26,1.33,1.20,1.10,1.00, 1.25,1.35,1.30,1.22,1.05,1.20,1.35,1.40,1.38,1.45, 1.50,1.55,1.62,1.70,1.66,1.69
];
const seriesV = [
1.92,1.90,1.93,1.88,1.91,1.94,1.90,1.92,1.89,1.93, 1.91,1.94,1.92,1.95,1.93,1.91,1.94,1.92,1.95,1.93, 1.90,1.93,1.91,1.94,1.92,1.89,1.93,1.91,1.94,1.92, 1.90,1.93,1.91,1.88,1.92,1.90,1.93,1.91,1.94,1.92, 1.95,1.93,1.96,1.94,1.97,1.95,1.98,2.00,2.03,2.08, 2.05,2.00,1.95,
1.32,1.38,1.42,1.40,1.43,1.41,1.44,1.42,1.45,1.43, 1.41,1.44,1.46,1.43,1.45,1.42,1.46,1.44,1.47,1.45, 1.43,1.46,1.44,1.48,1.45,1.43,1.47,1.45,1.49,1.46, 1.44,1.47,1.45,1.48,1.46,1.44,1.48,1.46,1.50,1.47, 1.45,1.49,1.52,1.48,1.51,1.56,1.52,1.58,1.55,1.62, 1.58,1.70,1.85,
2.08,1.90,1.40,0.71,
1.55,1.72,1.66,1.70,1.64,1.68,1.62,1.70,1.66,1.60, 1.68,1.64,1.70,1.66,1.62,1.69,1.65,1.71,1.67,1.63, 1.69,1.65,1.61,1.68,1.72,1.66,1.62,1.69,1.65,1.71, 1.67,1.63,1.70,1.66,1.72,1.68,1.64,1.70,1.74,1.69, 1.72,1.68,1.75,1.71,1.78,1.74,1.82,1.86,1.92,2.00, 2.05,
2.11,1.90,1.50,1.20,1.30,
1.38,1.30,1.34,1.28,1.40,1.35,1.30,1.37,1.33,1.28, 1.22,1.34,1.38,1.32,1.27,1.35,1.31,1.36,1.30,1.38, 1.33,1.29,1.36,1.32,1.38,1.34,1.30,1.22,1.35,1.39, 1.33,1.37,1.31,1.36,1.32,1.38,1.34,1.29,1.36,1.40, 1.34,1.30,1.37,1.33,1.39,1.35,1.31,1.37,1.42,1.36, 1.32,1.38,1.34,1.28,1.20,
1.12,1.55,
1.62,1.68,1.72,1.66,1.74,1.70,1.76,1.72,1.68,1.75, 1.80,1.72,1.76,1.70,1.78,1.74,1.72,1.76,1.73,1.77, 1.74,1.71,1.75,1.73,1.76,1.74,1.72,1.75,1.73,1.76, 1.74,1.72,1.75,1.73,1.70,1.74,1.72,1.75,1.71,1.74, 1.72,1.76,1.73,1.75,1.72,1.76,1.74,1.77,1.75,1.78, 1.76,1.80,1.82,
1.50,1.12,1.25,1.35,1.28,1.20,1.32,1.26,1.30,1.34, 1.28,1.36,1.30,1.22,1.33,1.27,1.31,1.10,1.28,1.35, 1.30,1.26,1.33,1.38,1.30,1.24,1.35,1.31,1.27,1.34, 1.38,1.32,1.28,1.36,1.30,1.25,1.33,1.38,1.32,1.28, 1.35,1.30,1.38,1.33,1.29,1.36,1.32,1.30,1.38,1.34, 1.40,1.48,1.62,1.78,1.72,1.68
];
const seriesW = [
1.22,1.25,1.20,1.18,1.10,1.22,0.80,0.00,1.15,1.25, 1.30,1.28,1.32,1.20,1.35,1.28,1.45,1.30,1.22,1.38, 1.52,1.35,1.28,1.40,1.50,1.32,1.25,1.42,1.35,1.28, 1.45,1.38,1.30,1.48,1.36,1.28,1.40,1.32,1.26,1.44, 1.35,1.30,1.25,1.40,1.32,1.20,1.38,1.45,1.50,1.52, 1.45,1.55,1.50,
0.75,1.05,0.90,1.00,0.82,0.95,0.88,1.02,0.85,0.95, 0.80,0.92,1.05,0.85,0.70,0.98,0.88,0.75,1.00,0.90, 0.82,1.02,0.62,0.88,0.95,0.78,0.90,0.65,0.85,0.98, 1.05,0.88,0.75,1.12,0.95,0.82,0.92,0.80,0.95,1.08, 0.90,0.85,1.00,0.92,1.05,1.18,1.00,1.10,1.22,1.30, 1.15,1.38,1.25,
1.55,1.63,1.45,1.05,
1.30,1.20,1.35,1.10,1.28,1.18,1.00,1.25,1.12,0.95, 1.08,1.22,1.00,0.88,1.15,1.25,1.05,0.92,1.18,1.10, 0.98,1.20,1.08,0.85,1.12,1.25,1.00,0.90,1.15,1.30, 1.05,0.88,1.20,1.10,0.82,1.05,1.22,1.35,1.08,0.95, 1.25,1.38,1.10,1.02,1.30,1.40,1.22,1.35,1.45,1.32, 1.50,
1.40,1.66,1.35,1.20,1.45,
1.60,1.38,1.52,1.45,1.40,1.48,1.42,1.50,1.45,1.41, 1.47,1.52,1.46,1.43,1.49,1.45,1.42,1.48,1.44,1.47, 1.43,1.46,1.49,1.44,1.41,1.46,1.50,1.45,1.42,1.47, 1.52,1.46,1.43,1.48,1.45,1.50,1.47,1.43,1.46,1.44, 1.48,1.45,1.42,1.47,1.44,1.41,1.45,1.43,1.40,1.44, 1.42,1.39,1.43,1.40,1.38,
0.75,1.10,
0.85,1.05,0.90,1.10,0.95,1.15,1.05,0.98,1.12,1.08, 1.00,1.10,1.05,0.95,1.08,1.02,0.90,0.80,0.85,0.75, 0.92,0.98,0.85,1.02,1.10,0.95,1.05,1.12,1.00,0.88, 1.05,1.18,1.25,1.10,0.90,1.05,0.80,1.20,1.28,1.05, 0.90,1.02,1.12,0.95,0.85,1.00,0.70,0.88,0.75,0.95, 1.05,0.90,0.80,
0.85,0.70,0.55,0.80,0.62,0.90,0.75,0.68,0.85,0.72, 0.60,0.78,0.90,0.70,0.82,0.65,0.40,0.00,0.55,0.80, 0.72,0.88,0.65,0.92,0.78,0.70,0.95,0.82,0.75,1.00, 0.85,0.72,0.95,1.05,0.80,0.90,1.08,0.85,0.75,0.98, 0.88,1.10,0.82,0.55,0.20,0.00,0.60,0.90,1.05,0.95, 1.10,1.02,1.18,1.12,1.20,1.16
];
const seriesY = [
1.68,1.60,1.65,1.55,1.62,1.66,1.50,0.00,1.52,1.60, 1.64,1.58,1.62,1.66,1.60,1.55,1.63,1.67,1.61,1.64, 1.58,1.62,1.66,1.63,1.60,1.67,1.64,1.61,1.65,1.62, 1.68,1.64,1.60,1.66,1.70,1.65,1.62,1.68,1.64,1.61, 1.66,1.70,1.65,1.68,1.72,1.66,1.69,1.64,1.70,1.75, 1.68,1.72,1.62,
1.22,1.10,1.05,0.90,1.02,0.85,0.98,1.08,1.00,1.05, 0.95,1.10,1.02,0.92,1.08,1.12,1.00,0.94,1.10,1.15, 1.02,0.96,1.12,1.06,0.90,1.08,1.14,1.00,1.10,0.95, 1.05,1.12,1.02,0.88,1.08,1.15,1.00,1.10,1.18,1.05, 0.90,1.12,1.20,1.08,1.25,1.15,1.30,1.22,1.35,1.40, 1.32,1.55,1.70,
1.85,1.95,1.20,0.30,
1.25,1.42,1.38,1.44,1.40,1.36,1.42,1.39,1.45,1.41, 1.38,1.43,1.40,1.37,1.42,1.39,1.44,1.41,1.38,1.43, 1.40,1.36,1.42,1.38,1.41,1.37,1.40,1.43,1.39,1.35, 1.41,1.38,1.44,1.40,1.37,1.42,1.25,1.40,1.44,1.41, 1.45,1.42,1.48,1.44,1.50,1.46,1.52,1.55,1.62,1.75, 1.88,
1.92,1.95,1.50,0.95,0.73,
1.35,1.42,1.38,1.44,1.40,1.36,1.42,1.39,1.30,1.10, 0.76,1.20,1.38,1.42,1.36,1.40,1.44,1.38,1.41,1.45, 1.40,1.37,1.43,1.39,1.42,1.38,1.44,1.40,1.37,1.42, 1.39,1.35,1.41,1.38,1.43,1.39,1.36,1.41,1.38,1.42, 1.37,1.40,1.36,1.42,1.38,1.35,1.40,1.44,1.38,1.42, 1.36,1.40,1.30,1.22,1.35,
1.50,1.38,
1.32,1.42,1.38,1.45,1.40,1.36,1.43,1.39,1.46,1.41, 1.37,1.44,1.40,1.36,1.42,1.48,1.40,1.35,1.42,1.46, 1.40,1.36,1.43,1.39,1.45,1.41,1.37,1.44,1.40,1.46, 1.42,1.38,1.45,1.41,1.47,1.43,1.39,1.46,1.42,1.48, 1.44,1.40,1.47,1.43,1.50,1.46,1.52,1.48,1.55,1.60, 1.65,1.70,1.75,
1.40,1.20,1.05,1.10,0.95,1.05,0.88,1.00,0.92,1.05, 0.90,0.82,1.00,0.94,1.06,0.98,0.88,1.02,0.95,1.08, 0.96,0.85,1.02,1.10,0.92,1.04,0.86,1.00,1.08,0.94, 1.05,0.90,1.10,0.98,0.82,1.05,1.12,0.96,1.04,0.92, 1.06,1.00,1.10,1.04,1.12,1.06,1.00,1.10,1.16,1.10, 1.18,1.22,1.30,1.42,1.55,1.60
];

const facetSeries = [seriesStar, seriesA, seriesC, seriesD, seriesE, seriesF, seriesG, seriesH, seriesI, seriesK,
  seriesL, seriesM, seriesN, seriesP, seriesQ, seriesR, seriesS, seriesT, seriesV, seriesW, seriesY];

// axis ticks
const xTickValues = [0, 50, 100, 150, 200, 250, 300];
const xLabelValues = [0, 100, 200, 300];
const yTickValues = [0, 0.25, 0.5, 0.75, 1, 1.25, 1.5, 1.75, 2, 2.25, 2.5];
const yLabelValues = [0, 0.5, 1, 1.5, 2, 2.5];

// layout
const pageWidth = 1298;
const plotLeft = 94, plotRight = 1276;
const stripHeight = 42, plotHeight = 58, panelStep = 116.9, firstStripTop = 11.7;
const padTop = 12, padBottom = 10, xAxisHeight = 40;
const xMin = -15.55, xMax = 348.55, yMin = -0.1, yMax = 2.56;
const tickFont = { family: "'Liberation Sans', Arial, sans-serif", size: 20 };

function inList(list, v) {
  return list.some(m => Math.abs(m - v) < 1e-6);
}

const panelBorder = {
  id: 'panelBorder',
  afterDraw(chart) {
    const { ctx, chartArea: a } = chart;
    ctx.save();
    ctx.strokeStyle = '#333333';
    ctx.lineWidth = 1.2;
    ctx.strokeRect(a.left, a.top, a.right - a.left, a.bottom - a.top);
    ctx.restore();
  }
};

const page = document.getElementById('page');

facetLabels.forEach((label, i) => {
  const stripTop = Math.round(firstStripTop + i * panelStep);
  const plotTop = stripTop + stripHeight;
  const isLast = i === facetLabels.length - 1;

  const strip = document.createElement('div');
  strip.className = 'strip';
  strip.style.left = plotLeft + 'px';
  strip.style.top = stripTop + 'px';
  strip.style.width = (plotRight - plotLeft) + 'px';
  strip.style.height = stripHeight + 'px';
  const span = document.createElement('span');
  span.textContent = label;
  strip.appendChild(span);
  page.appendChild(strip);

  const canvas = document.createElement('canvas');
  canvas.className = 'panel';
  const h = padTop + plotHeight + (isLast ? xAxisHeight : padBottom);
  canvas.width = pageWidth;
  canvas.height = h;
  canvas.style.width = pageWidth + 'px';
  canvas.style.height = h + 'px';
  canvas.style.top = (plotTop - padTop) + 'px';
  page.appendChild(canvas);

  const values = facetSeries[i];
  const points = values.map((v, k) => ({ x: k + 1, y: v }));

  new Chart(canvas, {
    type: 'line',
    data: {
      datasets: [{
        data: points,
        borderColor: '#000000',
        borderWidth: 1.4,
        pointRadius: 0,
        tension: 0,
        fill: false
      }]
    },
    options: {
      responsive: false,
      animation: false,
      events: [],
      layout: { padding: { left: 0, right: pageWidth - plotRight, top: padTop, bottom: isLast ? 0 : padBottom } },
      plugins: { legend: { display: false }, tooltip: { enabled: false } },
      scales: {
        x: {
          type: 'linear',
          min: xMin,
          max: xMax,
          afterBuildTicks: s => { s.ticks = xTickValues.map(v => ({ value: v })); },
          afterFit: s => { s.height = isLast ? xAxisHeight : 0; s.paddingLeft = 0; s.paddingRight = 0; },
          border: { display: false },
          grid: {
            color: c => (c.tick && inList(xLabelValues, c.tick.value)) ? '#ebebeb' : '#f3f3f3',
            lineWidth: c => (c.tick && inList(xLabelValues, c.tick.value)) ? 1.4 : 0.8,
            drawTicks: isLast,
            tickLength: 7,
            tickWidth: 1.1,
            tickColor: c => (c.tick && inList(xLabelValues, c.tick.value)) ? '#333333' : 'rgba(0,0,0,0)'
          },
          ticks: {
            display: isLast,
            autoSkip: false,
            maxRotation: 0,
            padding: 5,
            color: '#4d4d4d',
            font: tickFont,
            callback: v => inList(xLabelValues, v) ? String(v) : ''
          }
        },
        y: {
          min: yMin,
          max: yMax,
          afterBuildTicks: s => { s.ticks = yTickValues.map(v => ({ value: v })); },
          afterFit: s => { s.width = plotLeft; s.paddingTop = 0; s.paddingBottom = 0; },
          border: { display: false },
          grid: {
            color: c => (c.tick && inList(yLabelValues, c.tick.value)) ? '#ebebeb' : '#f3f3f3',
            lineWidth: c => (c.tick && inList(yLabelValues, c.tick.value)) ? 1.4 : 0.8,
            drawTicks: true,
            tickLength: 7,
            tickWidth: 1.1,
            tickColor: c => (c.tick && inList(yLabelValues, c.tick.value)) ? '#333333' : 'rgba(0,0,0,0)'
          },
          ticks: {
            autoSkip: false,
            padding: 6,
            color: '#4d4d4d',
            font: tickFont,
            callback: v => inList(yLabelValues, v) ? v.toFixed(1) : ''
          }
        }
      }
    },
    plugins: [panelBorder]
  });
});
</script>
</body>
</html>
